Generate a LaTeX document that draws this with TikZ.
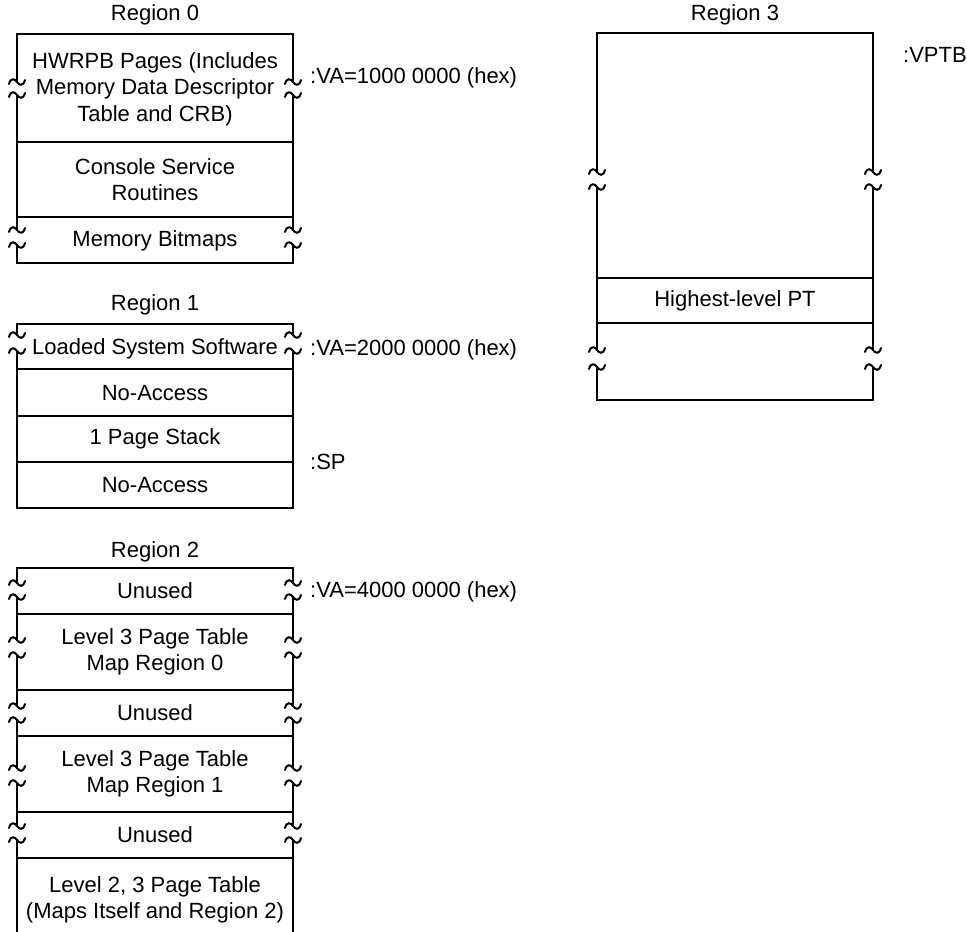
\documentclass[tikz,border=0pt]{standalone}
\usepackage{fontspec}
\setmainfont{Liberation Sans}
\tikzset{
  side/.style={line width=2.7pt, line cap=rect},
  divider/.style={line width=1.3pt},
  txt/.style={font=\fontsize{22}{26.5}\selectfont, align=center, inner sep=0pt},
  lbl/.style={font=\fontsize{22}{26.5}\selectfont, anchor=west, inner sep=0pt},
  brkmark/.pic={\draw[line width=2pt, line cap=round] (-8,2) .. controls (-6,-5) and (-2,-3) .. (0,0) .. controls (2,3) and (6,5) .. (8,-2);}
}
\begin{document}
\begin{tikzpicture}[x=1pt,y=-1pt]
\useasboundingbox (0,0) rectangle (967,932);

% ---------------- Region 0 ----------------
\node[txt] (r0title) at (155,15) {Region 0};
\draw[side] (17,82) -- (17,34) -- (293,34) -- (293,82);
\draw[side] (17,95) -- (17,230);
\draw[side] (293,95) -- (293,230);
\draw[side] (17,245) -- (17,263) -- (293,263) -- (293,245);
\draw[divider] (17,142) -- (293,142);
\draw[divider] (17,217) -- (293,217);
\foreach \y in {82,95,230,245} {\pic at (17,\y) {brkmark}; \pic at (293,\y) {brkmark};}
\node[txt] (r0a) at (155,89) {HWRPB Pages (Includes\\Memory Data Descriptor\\Table and CRB)};
\node[txt] (r0b) at (155,179.5) {Console Service\\Routines};
\node[txt] (r0c) at (155,241) {Memory Bitmaps};
\node[lbl] (va1) at (310,78) {:VA=1000 0000 (hex)};

% ---------------- Region 1 ----------------
\node[txt] (r1title) at (155,305) {Region 1};
\draw[side] (17,335) -- (17,324) -- (293,324) -- (293,335);
\draw[side] (17,351) -- (17,508) -- (293,508) -- (293,351);
\foreach \y in {369,416,462} {\draw[divider] (17,\y) -- (293,\y);}
\foreach \y in {335,351} {\pic at (17,\y) {brkmark}; \pic at (293,\y) {brkmark};}
\node[txt] (r1a) at (155,349) {Loaded System Software};
\node[txt] (r1b) at (155,393) {No-Access};
\node[txt] (r1c) at (155,439) {1 Page Stack};
\node[txt] (r1d) at (155,485) {No-Access};
\node[lbl] (va2) at (310,350) {:VA=2000 0000 (hex)};
\node[lbl] (sp) at (310,462) {:SP};

% ---------------- Region 2 ----------------
\node[txt] (r2title) at (155,552) {Region 2};
\draw[side] (17,583) -- (17,568) -- (293,568) -- (293,583);
\foreach \a/\b in {597/640,655/706,720/768,783/826} {
  \draw[side] (17,\a) -- (17,\b);
  \draw[side] (293,\a) -- (293,\b);
}
\draw[side] (17,840) -- (17,932);
\draw[side] (293,840) -- (293,932);
\foreach \y in {614,690,736,812,858} {\draw[divider] (17,\y) -- (293,\y);}
\foreach \y in {583,597,640,655,706,720,768,783,826,840} {\pic at (17,\y) {brkmark}; \pic at (293,\y) {brkmark};}
\node[txt] (r2a) at (155,591) {Unused};
\node[txt] (r2b) at (155,652) {Level 3 Page Table\\Map Region 0};
\node[txt] (r2c) at (155,713) {Unused};
\node[txt] (r2d) at (155,774) {Level 3 Page Table\\Map Region 1};
\node[txt] (r2e) at (155,835) {Unused};
\node[txt] (r2f) at (155,900) {Level 2, 3 Page Table\\(Maps Itself and Region 2)};
\node[lbl] (va4) at (310,592) {:VA=4000 0000 (hex)};

% ---------------- Region 3 ----------------
\node[txt] (r3title) at (735,15) {Region 3};
\draw[side] (597,172) -- (597,33) -- (873,33) -- (873,172);
\draw[side] (597,187) -- (597,350);
\draw[side] (873,187) -- (873,350);
\draw[side] (597,367) -- (597,400) -- (873,400) -- (873,367);
\draw[divider] (597,278) -- (873,278);
\draw[divider] (597,323) -- (873,323);
\foreach \y in {172,187,350,367} {\pic at (597,\y) {brkmark}; \pic at (873,\y) {brkmark};}
\node[txt] (r3a) at (735,300.5) {Highest-level PT};
\node[lbl] (vptb) at (903,55) {:VPTB};
\end{tikzpicture}
\end{document}
